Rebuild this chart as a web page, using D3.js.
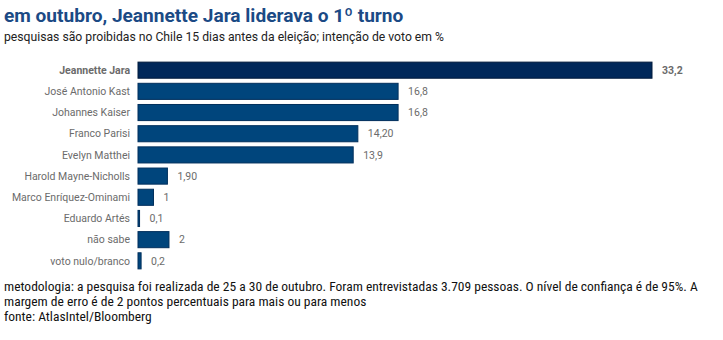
<!DOCTYPE html>
<html>
<head>
<meta charset="utf-8">
<script src="https://cdn.jsdelivr.net/npm/d3@7/dist/d3.min.js"></script>
<style>
  body { margin: 0; background: #fff; }
  svg { display: block; }
</style>
</head>
<body>
<svg id="chart" width="723" height="340"></svg>
<script>
// Voting intention, AtlasIntel/Bloomberg poll, October
const candidates = [
  "Jeannette Jara", "José Antonio Kast", "Johannes Kaiser", "Franco Parisi",
  "Evelyn Matthei", "Harold Mayne-Nicholls", "Marco Enríquez-Ominami",
  "Eduardo Artés", "não sabe", "voto nulo/branco"
];
const values = [33.2, 16.8, 16.8, 14.2, 13.9, 1.9, 1, 0.1, 2, 0.2];
const valueLabels = ["33,2", "16,8", "16,8", "14,20", "13,9", "1,90", "1", "0,1", "2", "0,2"];
const highlighted = "Jeannette Jara";

const svg = d3.select("#chart");
const font = "Roboto, 'Noto Sans', sans-serif";

// Headline and subtitle
svg.append("text")
  .attr("x", 4).attr("y", 22)
  .attr("font-family", font).attr("font-weight", 700).attr("font-size", 19.1)
  .attr("fill", "#1b4a85")
  .text("em outubro, Jeannette Jara liderava o 1º turno");
svg.append("text")
  .attr("x", 4).attr("y", 41)
  .attr("font-family", font).attr("font-size", 12.2)
  .attr("fill", "#222")
  .text("pesquisas são proibidas no Chile 15 dias antes da eleição; intenção de voto em %");

const left = 138;
const x = d3.scaleLinear().domain([0, 33.2]).range([left, 652]);
const y = d3.scaleBand().domain(candidates).range([60, 271]).paddingInner(0.24).paddingOuter(0.1);

const rows = svg.append("g").selectAll("g")
  .data(candidates.map((c, i) => ({ name: c, value: values[i], label: valueLabels[i] })))
  .join("g");

rows.append("rect")
  .attr("x", x(0))
  .attr("y", d => y(d.name))
  .attr("width", d => x(d.value) - x(0))
  .attr("height", y.bandwidth())
  .attr("fill", d => d.name === highlighted ? "#00285a" : "#00457c")
  .attr("stroke", d => d.name === highlighted ? "#001a3c" : "#002f5c")
  .attr("stroke-width", 1);

// Category labels
rows.append("text")
  .attr("x", left - 8)
  .attr("y", d => y(d.name) + y.bandwidth() / 2)
  .attr("dy", "0.35em")
  .attr("text-anchor", "end")
  .attr("font-family", font)
  .attr("font-size", 10.5)
  .attr("font-weight", d => d.name === highlighted ? 700 : 400)
  .attr("fill", "#6b6b6b")
  .text(d => d.name);

// Value labels
rows.append("text")
  .attr("x", d => x(d.value) + 10)
  .attr("y", d => y(d.name) + y.bandwidth() / 2)
  .attr("dy", "0.35em")
  .attr("font-family", font)
  .attr("font-size", 10.5)
  .attr("font-weight", d => d.name === highlighted ? 700 : 400)
  .attr("fill", "#6b6b6b")
  .text(d => d.label);

// Footnote
const notes = [
  "metodologia: a pesquisa foi realizada de 25 a 30 de outubro. Foram entrevistadas 3.709 pessoas. O nível de confiança é de 95%. A",
  "margem de erro é de 2 pontos percentuais para mais ou para menos",
  "fonte: AtlasIntel/Bloomberg"
];
svg.append("g").selectAll("text")
  .data(notes)
  .join("text")
  .attr("x", 4)
  .attr("y", (d, i) => 291 + i * 15)
  .attr("font-family", "'Liberation Sans Narrow', 'Roboto Condensed', Roboto, sans-serif")
  .attr("font-size", 13.5)
  .attr("fill", "#111")
  .text(d => d);
</script>
</body>
</html>
